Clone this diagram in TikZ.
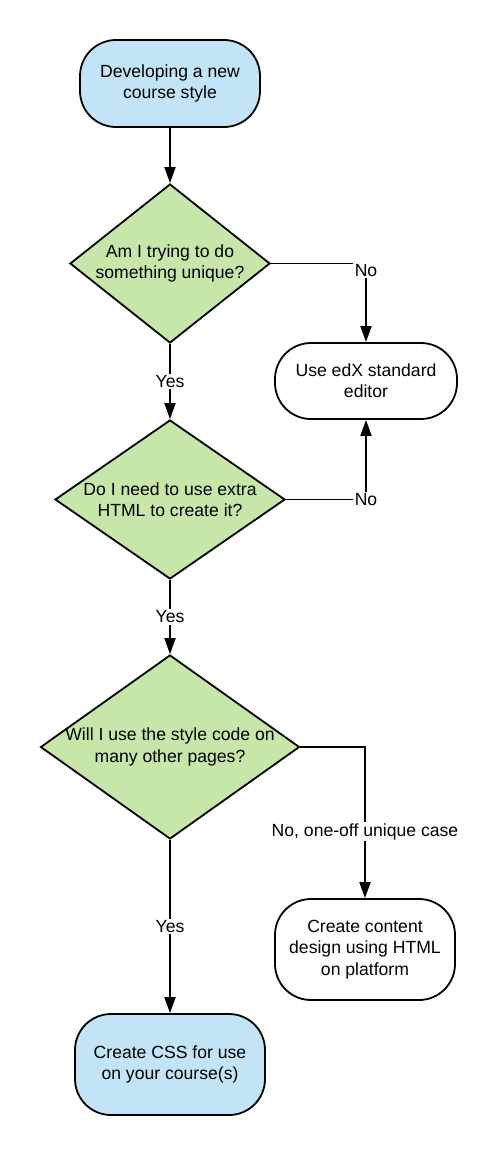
\documentclass[tikz,border=0pt]{standalone}
\usepackage{fontspec}
\setmainfont{Liberation Sans}
\usepackage{xcolor}
\usetikzlibrary{arrows.meta, positioning, shapes.geometric}
\definecolor{termblue}{HTML}{C2E4F6}
\definecolor{askgreen}{HTML}{C6E6AA}

\begin{document}
\begin{tikzpicture}[x=1pt, y=-1pt,
  font=\fontsize{17.6}{21.3}\selectfont,
  every node/.style={align=center},
  term/.style={draw, line width=1.8pt, rounded corners=36pt, inner sep=0pt},
  ask/.style={diamond, draw, line width=1.8pt, fill=askgreen, inner sep=0pt},
  arr/.style={line width=1.8pt, -{Triangle[length=16pt, width=11pt]}},
  lbl/.style={fill=white, inner sep=1.5pt}]

\useasboundingbox (0,0) rectangle (500,1156);

\node[term, fill=termblue, minimum width=180pt, minimum height=87pt] (start) at (170,83.5) {Developing a new\\course style};
\node[ask, minimum width=200pt, minimum height=159pt, label={center:Am I trying to do\\something unique?}] (q1) at (170,263.5) {};
\node[term, minimum width=182pt, minimum height=76pt] (editor) at (366,381) {Use edX standard\\editor};
\node[ask, minimum width=230pt, minimum height=159pt, label={center:Do I need to use extra\\HTML to create it?}] (q2) at (170,499.5) {};
\node[ask, minimum width=259pt, minimum height=184pt, label={center:Will I use the style code on\\many other pages?}] (q3) at (170,747) {};
\node[term, minimum width=180pt, minimum height=101pt] (create) at (365,949.5) {Create content\\design using HTML\\on platform};
\node[term, fill=termblue, minimum width=190pt, minimum height=101pt] (css) at (170,1064.5) {Create CSS for use\\on your course(s)};

\draw[arr] (start) -- (q1);
\draw[arr] (q1) -- node[lbl] {Yes} (q2);
\draw[arr] (q1.east) -| node[lbl, pos=0.5, yshift=-7pt] {No} (editor.north);
\draw[arr] (q2.east) -| node[lbl, pos=0.5] {No} (editor.south);
\draw[arr] (q2) -- node[lbl] {Yes} (q3);
\draw[arr] (q3.east) -| node[lbl, pos=0.78] {No, one-off unique case} (create.north);
\draw[arr] (q3) -- node[lbl] {Yes} (css);
\end{tikzpicture}
\end{document}
